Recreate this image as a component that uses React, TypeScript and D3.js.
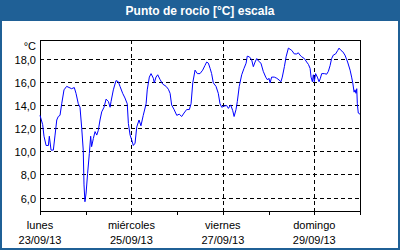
import React from "react";
import * as d3 from "d3";

const title = "Punto de rocío [°C] escala";
const unitLabel = "°C";
const startDate = new Date(2013, 8, 23, 0, 0, 0);
const dayCount = 7;
const yTicks = [6, 8, 10, 12, 14, 16, 18];
const dayNames = ["lunes", "miércoles", "viernes", "domingo"];
const dateLabels = ["23/09/13", "25/09/13", "27/09/13", "29/09/13"];

// hours since start, dew point in °C
const hours = [
  0, 1.4, 2.1, 3.2, 4.4, 4.9, 5.8, 7.0, 7.9, 8.8, 9.6, 10.5, 11.4, 12.6, 14.0, 16.6, 18.0, 18.9, 20.1, 21.0,
  21.9, 22.7, 23.1, 23.6, 24.2, 25.0, 25.9, 26.6, 27.1, 28.0, 28.9, 29.8, 30.6, 31.5, 32.4, 33.6, 34.7, 35.9,
  36.8, 37.3, 38.5, 39.9, 41.1, 42.0, 43.4, 44.6, 45.8, 46.4, 47.3, 48.1, 49.0, 49.9, 50.8, 52.0, 53.0, 54.2,
  55.7, 56.3, 57.4, 58.3, 59.5, 60.0, 60.9, 61.8, 63.0, 64.4, 66.2, 67.4, 68.3, 69.1, 70.4, 71.8, 73.1, 74.4,
  75.6, 77.0, 78.4, 79.3, 80.2, 81.4, 82.6, 84.0, 85.4, 86.6, 87.5, 88.4, 89.3, 90.1, 91.0, 92.4, 93.6, 94.5,
  95.4, 96.6, 98.0, 98.9, 100.1, 101.2, 101.9, 102.9, 103.6, 104.6, 105.9, 107.1, 108.2, 108.8, 109.9, 111.1,
  112.0, 112.9, 113.8, 114.6, 116.0, 117.2, 118.5, 119.5, 120.2, 120.8, 121.6, 123.0, 124.3, 125.5, 126.5,
  127.2, 128.3, 129.2, 130.4, 131.3, 132.2, 133.5, 134.8, 135.6, 136.5, 137.4, 138.8, 140.0, 140.9, 141.8,
  142.3, 143.0, 143.5, 144.0, 144.7, 145.6, 146.5, 147.2, 147.9, 149.3, 150.5, 151.4, 152.3, 153.1, 154.0,
  155.2, 156.3, 157.0, 158.0, 158.9, 160.1, 161.5, 162.8, 163.6, 164.2, 164.9, 165.4, 165.9, 166.3, 166.6,
  167.1, 168.0,
];
const dewPoint = [
  13.1, 12.3, 11.3, 10.5, 10.5, 11.3, 10.1, 10.1, 11.4, 12.7, 13.0, 13.1, 14.1, 15.3, 15.6, 15.4, 15.5, 15.0, 14.1, 13.8,
  12.0, 10.1, 7.1, 5.65, 6.4, 8.1, 9.8, 11.3, 10.4, 11.1, 11.7, 11.4, 11.8, 12.7, 13.4, 13.8, 14.5, 14.3,
  13.8, 14.3, 15.3, 16.1, 16.0, 15.6, 15.0, 14.6, 14.1, 12.4, 11.4, 11.0, 10.5, 10.7, 12.1, 12.7, 12.2, 13.1,
  14.1, 15.3, 16.4, 16.7, 16.3, 15.9, 16.4, 16.6, 16.2, 15.8, 15.6, 15.35, 15.0, 14.0, 13.6, 13.1, 13.2, 13.0,
  13.3, 13.6, 13.6, 14.1, 15.9, 17.0, 16.7, 16.7, 17.0, 17.4, 17.7, 17.6, 17.15, 16.7, 15.9, 15.6, 15.0, 14.1,
  13.8, 13.9, 13.95, 13.7, 14.0, 13.5, 13.0, 13.6, 14.3, 15.6, 16.6, 17.15, 17.6, 18.2, 18.15, 17.9,
  17.3, 17.7, 18.0, 17.8, 17.6, 16.9, 16.4, 16.15, 16.3, 15.9, 16.4, 16.4, 16.3, 16.15, 16.0,
  16.4, 17.3, 18.15, 18.9, 18.8, 18.7, 18.4, 18.4, 18.5, 18.3, 18.15, 18.0, 17.7, 17.5, 17.15,
  16.4, 16.0, 16.6, 16.0, 16.7, 16.4, 16.0, 16.3, 16.7, 16.7, 16.65, 16.9, 17.4, 18.0, 18.3,
  18.4, 18.7, 18.9, 18.7, 18.6, 18.3, 17.7, 17.0, 16.4, 15.9, 15.1, 15.3, 15.0, 15.4, 14.1,
  13.3, 13.2,
];

const W = 400;
const H = 250;
const BLUE = "#1f6096";
const FONT = "'Liberation Sans', Arial, sans-serif";
const plot = { left: 40, right: 360, top: 40, bottom: 211 };

export default function App() {
  const endDate = d3.timeDay.offset(startDate, dayCount);
  const x = d3.scaleTime().domain([startDate, endDate]).range([plot.left, plot.right]);
  const y = d3.scaleLinear().domain([4.85, 19.6]).range([plot.bottom, plot.top]);

  const data = hours.map((h, i) => ({ t: d3.timeMinute.offset(startDate, Math.round(h * 60)), v: dewPoint[i] }));
  const line = d3
    .line<{ t: Date; v: number }>()
    .x((d) => x(d.t))
    .y((d) => y(d.v));

  const days = d3.timeDay.range(startDate, d3.timeDay.offset(endDate, 1));
  const gridDays = days.filter((_, i) => i % 2 === 0 && i > 0 && i < dayCount);
  const labelDays = days.filter((_, i) => i % 2 === 0 && i < dayCount);

  return (
    <svg width={W} height={H} style={{ position: "absolute", left: 0, top: 0 }} fontFamily={FONT}>
      <rect x={0} y={0} width={W} height={H} fill="#ffffff" />
      <rect x={0} y={0} width={W} height={21} fill={BLUE} />
      <rect x={1} y={1} width={W - 2} height={H - 2} fill="none" stroke={BLUE} strokeWidth={2} />
      <text x={W / 2} y={14.5} textAnchor="middle" fill="#ffffff" fontSize={12} fontWeight="bold">
        {title}
      </text>

      {yTicks.map((v) => (
        <g key={v}>
          <line
            x1={plot.left}
            x2={plot.right}
            y1={Math.round(y(v)) + 0.5}
            y2={Math.round(y(v)) + 0.5}
            stroke="#000"
            strokeDasharray="4,3"
            shapeRendering="crispEdges"
          />
          <text x={36} y={Math.round(y(v)) + 4.5} textAnchor="end" fontSize={11} fill="#000">
            {d3.format(".1f")(v).replace(".", ",")}
          </text>
        </g>
      ))}
      <text x={36} y={50} textAnchor="end" fontSize={11} fill="#000">
        {unitLabel}
      </text>

      {gridDays.map((d, i) => (
        <line
          key={i}
          x1={Math.round(x(d)) + 0.5}
          x2={Math.round(x(d)) + 0.5}
          y1={plot.top}
          y2={plot.bottom}
          stroke="#000"
          strokeDasharray="4,3"
          shapeRendering="crispEdges"
        />
      ))}

      <rect
        x={plot.left + 0.5}
        y={plot.top + 0.5}
        width={plot.right - plot.left}
        height={plot.bottom - plot.top}
        fill="none"
        stroke="#000"
        shapeRendering="crispEdges"
      />
      {days.map((d, i) => (
        <line
          key={i}
          x1={Math.round(x(d)) + 0.5}
          x2={Math.round(x(d)) + 0.5}
          y1={plot.bottom}
          y2={plot.bottom + 4}
          stroke="#000"
          shapeRendering="crispEdges"
        />
      ))}

      <path d={line(data) || ""} fill="none" stroke="#0000ff" strokeWidth={1} />

      {labelDays.map((d, i) => (
        <g key={i}>
          <text x={x(d)} y={229} textAnchor="middle" fontSize={11} fill="#000">
            {dayNames[i]}
          </text>
          <text x={x(d)} y={244} textAnchor="middle" fontSize={11} fill="#000">
            {dateLabels[i]}
          </text>
        </g>
      ))}
    </svg>
  );
}
